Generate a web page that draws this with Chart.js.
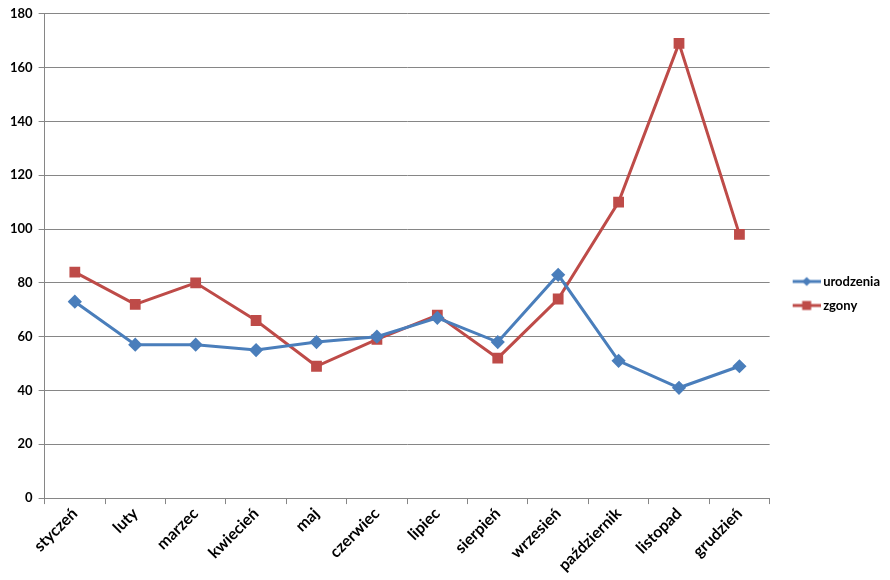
<!DOCTYPE html>
<html>
<head>
<meta charset="utf-8">
<script src="https://cdn.jsdelivr.net/npm/chart.js@4.4.0/dist/chart.umd.min.js"></script>
<style>
  body { margin: 0; background: #fff; }
  #wrap { width: 890px; height: 580px; }
</style>
</head>
<body>
<div id="wrap"><canvas id="wykres" width="890" height="580"></canvas></div>
<script>
const miesiace = ['styczeń', 'luty', 'marzec', 'kwiecień', 'maj', 'czerwiec', 'lipiec', 'sierpień', 'wrzesień', 'październik', 'listopad', 'grudzień'];
const urodzenia = [73, 57, 57, 55, 58, 60, 67, 58, 83, 51, 41, 49];
const zgony = [84, 72, 80, 66, 49, 59, 68, 52, 74, 110, 169, 98];
const osY = { min: 0, max: 180, krok: 20 };

const niebieski = '#4a7ebb';
const czerwony = '#be4b48';
const czcionka = 'Lato, "Open Sans", sans-serif';

// ikonka legendy: linia z markerem (przesunieta w prawo w obrazku)
function ikona(kolor, ksztalt) {
    const c = document.createElement('canvas');
    c.width = 44; c.height = 12;
    const g = c.getContext('2d');
    g.strokeStyle = kolor; g.lineWidth = 3;
    g.beginPath(); g.moveTo(16, 6); g.lineTo(44, 6); g.stroke();
    g.fillStyle = kolor;
    g.beginPath();
    if (ksztalt === 'romb') {
        g.moveTo(30, 1.5); g.lineTo(34.5, 6); g.lineTo(30, 10.5); g.lineTo(25.5, 6);
    } else {
        g.rect(25.5, 1.5, 9, 9);
    }
    g.fill();
    return c;
}
const ikony = [ikona(niebieski, 'romb'), ikona(czerwony, 'kwadrat')];

const ctx = document.getElementById('wykres').getContext('2d');
const wykres = new Chart(ctx, {
    type: 'line',
    data: {
        labels: miesiace,
        datasets: [{
            label: 'urodzenia',
            data: urodzenia,
            borderColor: niebieski,
            backgroundColor: niebieski,
            borderWidth: 3,
            pointStyle: 'rectRot',
            pointRadius: 5,
            pointHoverRadius: 5,
            tension: 0
        }, {
            label: 'zgony',
            data: zgony,
            borderColor: czerwony,
            backgroundColor: czerwony,
            borderWidth: 3,
            pointStyle: 'rect',
            pointRadius: 5.5,
            pointHoverRadius: 5.5,
            tension: 0
        }]
    },
    options: {
        responsive: false,
        animation: false,
        layout: { padding: { top: 12, right: 0, left: 4, bottom: 5 } },
        plugins: {
            tooltip: { enabled: false },
            legend: {
                position: 'right',
                labels: {
                    usePointStyle: true,
                    pointStyleWidth: 36,
                    color: '#000',
                    font: { family: czcionka, size: 13, weight: 'bold' },
                    padding: 11,
                    generateLabels: (chart) => chart.data.datasets.map((ds, i) => ({
                        text: ds.label,
                        pointStyle: ikony[i],
                        fillStyle: ds.borderColor,
                        strokeStyle: ds.borderColor,
                        lineWidth: 0,
                        hidden: false,
                        datasetIndex: i
                    }))
                }
            }
        },
        scales: {
            x: {
                offset: true,
                border: { color: '#868686', width: 1 },
                grid: { drawOnChartArea: false, offset: true, tickLength: 6, color: '#868686' },
                ticks: {
                    color: '#000',
                    maxRotation: 45,
                    minRotation: 45,
                    autoSkip: false,
                    padding: 0,
                    font: { family: czcionka, size: 16, weight: 'bold' }
                }
            },
            y: {
                min: osY.min,
                max: osY.max,
                border: { color: '#868686', width: 1 },
                grid: { color: '#868686', tickLength: 6 },
                ticks: {
                    stepSize: osY.krok,
                    color: '#000',
                    padding: 6,
                    font: { family: czcionka, size: 13, weight: 'bold' }
                }
            }
        }
    }
});
</script>
</body>
</html>
